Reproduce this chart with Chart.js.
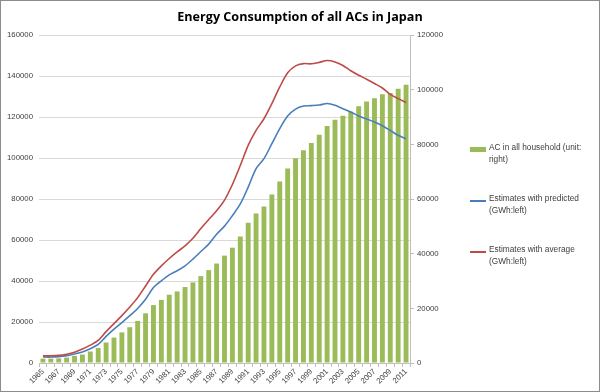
<!DOCTYPE html>
<html lang="en">
<head>
    <meta charset="UTF-8">
    <title>Energy Consumption of all ACs in Japan</title>
    <script src="https://cdn.jsdelivr.net/npm/chart.js"></script>
    <style>
        body {
            margin: 0;
            background: #fff;
            font-family: 'Liberation Sans', Arial, sans-serif;
        }
        .frame {
            position: relative;
            width: 600px;
            height: 392px;
            box-sizing: border-box;
            border: 1px solid #8c8c8c;
            background: #fff;
        }
        .legend {
            position: absolute;
            left: 469px;
            top: 0;
            width: 125px;
            font-size: 8.3px;
            color: #404040;
            line-height: 12px;
        }
        .legend .item {
            position: absolute;
            left: 0;
            width: 125px;
        }
        .legend .swatch {
            position: absolute;
            left: 0;
            width: 16px;
        }
        .legend .txt {
            position: absolute;
            left: 19px;
            width: 104px;
        }
    </style>
</head>
<body>
    <div class="frame">
        <canvas id="acChart" width="598" height="390"></canvas>
        <div class="legend">
            <div class="item" style="top:140px;">
                <div class="swatch" style="top:6px;height:5px;background:#9bbb59;"></div>
                <div class="txt">AC in all household (unit: right)</div>
            </div>
            <div class="item" style="top:191px;">
                <div class="swatch" style="top:8px;height:2px;background:#4a7ebb;"></div>
                <div class="txt">Estimates with predicted (GWh:left)</div>
            </div>
            <div class="item" style="top:242px;">
                <div class="swatch" style="top:8px;height:2px;background:#be4b48;"></div>
                <div class="txt">Estimates with average (GWh:left)</div>
            </div>
        </div>
    </div>

    <script>
        const years = [];
        for (let y = 1965; y <= 2011; y++) years.push(String(y));

        // number of ACs in all households (right axis)
        const acUnits = [
            1600, 1600, 1700, 2000, 2600, 3100, 4200, 5500, 7500, 9300,
            11200, 13100, 15400, 18200, 21200, 23100, 25000, 26200, 27800, 29500,
            31800, 34000, 36400, 39300, 42200, 46300, 51300, 54700, 57300, 61700,
            66400, 71200, 74900, 77900, 80500, 83500, 86700, 89000, 90500, 92000,
            94000, 95700, 96900, 98400, 98800, 100400, 101800
        ];
        // GWh, left axis
        const predicted = [
            2900, 2900, 3100, 3600, 4400, 5400, 7000, 9100, 13000, 16500,
            19700, 23100, 26600, 31100, 36800, 40100, 43000, 45000, 47400, 50700,
            54400, 58000, 62800, 66800, 71900, 77600, 85800, 94800, 99700, 107000,
            114400, 120500, 123900, 125400, 125600, 125900, 126600, 125800, 124100, 122500,
            120500, 119100, 117600, 115800, 113500, 111100, 109400
        ];
        const average = [
            3500, 3500, 3700, 4300, 5300, 6800, 8700, 11000, 15300, 19200,
            23100, 27300, 31900, 37600, 43300, 47400, 51000, 54200, 57200, 60900,
            65600, 70000, 74300, 79500, 87100, 96400, 106200, 113500, 119200, 126600,
            134700, 141600, 145000, 146100, 146000, 146700, 147600, 146900, 145200, 142600,
            140400, 138500, 136400, 134200, 131100, 129000, 127100
        ];

        const tickFont = { family: "'Liberation Sans', Arial, sans-serif", size: 7.8 };
        const tickColor = '#404040';
        const plainNumber = v => String(v);

        const ctx = document.getElementById('acChart').getContext('2d');
        const acChart = new Chart(ctx, {
            type: 'bar',
            data: {
                labels: years,
                datasets: [{
                    type: 'line',
                    label: 'Estimates with average (GWh:left)',
                    data: average,
                    yAxisID: 'y',
                    borderColor: '#be4b48',
                    backgroundColor: '#be4b48',
                    borderWidth: 1.6,
                    pointRadius: 0,
                    tension: 0.3,
                    order: 1
                }, {
                    type: 'line',
                    label: 'Estimates with predicted (GWh:left)',
                    data: predicted,
                    yAxisID: 'y',
                    borderColor: '#4a7ebb',
                    backgroundColor: '#4a7ebb',
                    borderWidth: 1.6,
                    pointRadius: 0,
                    tension: 0.3,
                    order: 2
                }, {
                    type: 'bar',
                    label: 'AC in all household (unit: right)',
                    data: acUnits,
                    yAxisID: 'y1',
                    backgroundColor: '#9bbb59',
                    borderWidth: 0,
                    categoryPercentage: 1,
                    barPercentage: 0.62,
                    order: 3
                }]
            },
            options: {
                responsive: false,
                animation: false,
                layout: { padding: 0 },
                plugins: {
                    legend: { display: false },
                    tooltip: { enabled: false },
                    title: {
                        display: true,
                        text: 'Energy Consumption of all ACs in Japan',
                        color: '#000',
                        font: { family: "'Open Sans', sans-serif", size: 12.6, weight: 'bold' },
                        padding: { top: 9, bottom: 10 }
                    }
                },
                scales: {
                    x: {
                        offset: true,
                        grid: { drawOnChartArea: false, drawTicks: true, tickLength: 4, color: '#bfbfbf' },
                        border: { color: '#bfbfbf' },
                        ticks: {
                            autoSkip: false,
                            minRotation: 45,
                            maxRotation: 45,
                            padding: 0,
                            color: tickColor,
                            font: tickFont,
                            callback: function(value, index) {
                                return index % 2 === 0 ? this.getLabelForValue(value) : '';
                            }
                        },
                        afterFit: function(scale) { scale.height = 28; }
                    },
                    y: {
                        position: 'left',
                        min: 0,
                        max: 160000,
                        ticks: { stepSize: 20000, color: tickColor, font: tickFont, padding: 6, callback: plainNumber },
                        grid: { color: '#d9d9d9', drawTicks: false },
                        border: { display: false },
                        afterFit: function(scale) { scale.width = 38; }
                    },
                    y1: {
                        position: 'right',
                        min: 0,
                        max: 120000,
                        ticks: { stepSize: 20000, color: tickColor, font: tickFont, padding: 3, callback: plainNumber },
                        grid: { drawOnChartArea: false, tickLength: 4, color: '#bfbfbf' },
                        border: { color: '#bfbfbf' },
                        afterFit: function(scale) { scale.width = 189; }
                    }
                }
            }
        });
    </script>
</body>
</html>
